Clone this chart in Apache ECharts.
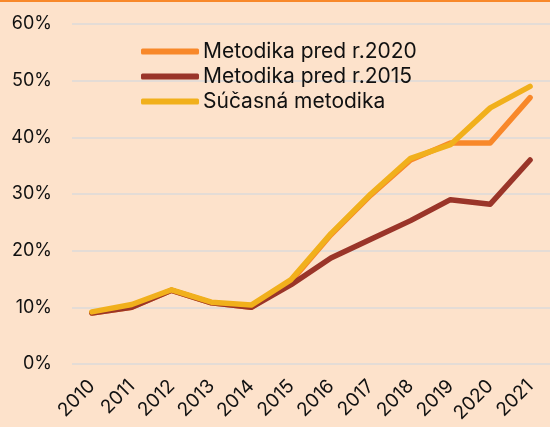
<!DOCTYPE html>
<html lang="sk">
  <head>
    <meta charset="UTF-8" />
    <title>Metodiky</title>
    <script src="https://cdn.jsdelivr.net/npm/echarts@6/dist/echarts.min.js"></script>
  </head>
  <body style="margin:0;background:#fde2cb">
    <div id="container" style="width: 550px;height: 427px"></div>
    <script>
      // roky
      var years = ['2010', '2011', '2012', '2013', '2014', '2015', '2016', '2017', '2018', '2019', '2020', '2021']
      // hodnoty v %
      var pred2020 = [9.0, 10.0, 13.0, 10.8, 10.0, 14.6, 22.8, 29.8, 36.0, 39.0, 39.0, 47.0]
      var pred2015 = [9.0, 10.0, 13.0, 10.8, 10.0, 14.0, 18.7, 22.0, 25.3, 29.0, 28.2, 36.0]
      var sucasna = [9.2, 10.5, 13.1, 10.9, 10.4, 14.9, 23.0, 30.0, 36.3, 38.7, 45.2, 49.0]
      var names = ['Metodika pred r.2020', 'Metodika pred r.2015', 'Súčasná metodika']
      var colors = ['#f8882a', '#9a3529', '#f1b01c']

      var myChart = echarts.init(document.querySelector('#container'))
      var font = 'Inter'

      function line(name, data, color) {
        return {
          name: name,
          type: 'line',
          data: data,
          symbol: 'none',
          lineStyle: { width: 5.5, color: color, cap: 'round', join: 'round' },
          itemStyle: { color: color }
        }
      }

      myChart.setOption({
        backgroundColor: '#fde2cb',
        color: colors,
        graphic: [
          { type: 'rect', shape: { x: 0, y: 0, width: 550, height: 2 }, style: { fill: '#f8882a' } }
        ],
        grid: { left: 72, right: -13, top: 24, bottom: 63 },
        legend: {
          left: 136,
          top: 36,
          orient: 'vertical',
          itemWidth: 58,
          itemHeight: 6,
          itemGap: 4,
          textStyle: { fontFamily: font, fontSize: 21, color: '#111', padding: [0, 0, 0, -1] },
          data: names.map(function (n) { return { name: n, icon: 'roundRect' } })
        },
        xAxis: {
          type: 'category',
          data: years,
          boundaryGap: true,
          axisLine: { show: false },
          axisTick: { show: false },
          axisLabel: {
            interval: 0,
            rotate: 45,
            margin: 19,
            fontFamily: font,
            fontSize: 19,
            color: '#111'
          }
        },
        yAxis: {
          type: 'value',
          min: 0,
          max: 60,
          interval: 10,
          axisLine: { show: false },
          axisTick: { show: false },
          splitLine: { lineStyle: { color: '#e4dcd6', width: 2 } },
          axisLabel: {
            formatter: '{value}%',
            margin: 20,
            fontFamily: font,
            fontSize: 18,
            color: '#111'
          }
        },
        series: [
          line(names[0], pred2020, colors[0]),
          line(names[1], pred2015, colors[1]),
          line(names[2], sucasna, colors[2])
        ]
      })
    </script>
  </body>
</html>
